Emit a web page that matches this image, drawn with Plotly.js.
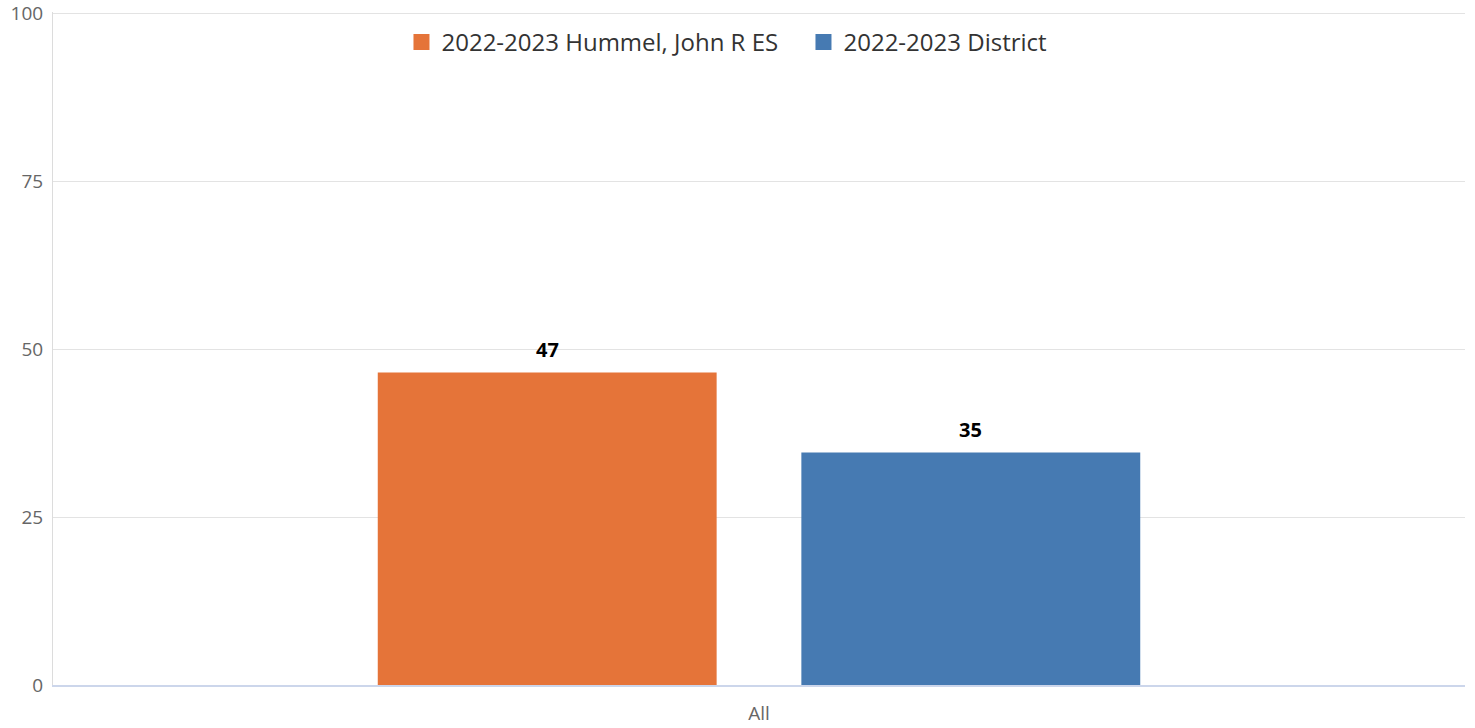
<!DOCTYPE html>
<html>
<head>
<meta charset="utf-8">
<script src="https://cdn.plot.ly/plotly-3.0.1.min.js"></script>
<style>html,body{margin:0;padding:0;background:#fff;}#chart{width:1475px;height:728px;}</style>
</head>
<body>
<div id="chart"></div>
<script>
const categories = ["All"];
const seriesNames = ["2022-2023 Hummel, John R ES", "2022-2023 District"];
const schoolValues = [46.5];
const districtValues = [34.6];
const schoolLabels = ["47"];
const districtLabels = ["35"];
const yTicks = [0, 25, 50, 75, 100];
const colors = ["#E57439", "#467AB2"];

const font = "'Open Sans', sans-serif";
const bargap = 0.4;
const slot = (1 - bargap) / 2;

const traces = [
  {type: "bar", x: categories, y: schoolValues, name: seriesNames[0],
   marker: {color: colors[0]}, showlegend: false, hoverinfo: "none"},
  {type: "bar", x: categories, y: districtValues, name: seriesNames[1],
   marker: {color: colors[1]}, showlegend: false, hoverinfo: "none"},
  {type: "scatter", mode: "markers", x: [null], y: [null], name: seriesNames[0],
   marker: {symbol: "square", size: 16, color: colors[0]}, hoverinfo: "none"},
  {type: "scatter", mode: "markers", x: [null], y: [null], name: seriesNames[1],
   marker: {symbol: "square", size: 16, color: colors[1]}, hoverinfo: "none"}
];

const annotations = [];
const series = [[schoolValues, schoolLabels, -1], [districtValues, districtLabels, 1]];
series.forEach(([vals, labs, side]) => {
  vals.forEach((v, i) => {
    annotations.push({
      xref: "x", yref: "y", x: i + side * slot / 2, y: v,
      text: "<b>" + labs[i] + "</b>", showarrow: false,
      yanchor: "middle", yshift: 23,
      font: {family: font, size: 20, color: "#000"}
    });
  });
});

const layout = {
  width: 1475, height: 728,
  margin: {l: 53, r: 10, t: 12, b: 43, autoexpand: false},
  paper_bgcolor: "#fff", plot_bgcolor: "#fff",
  font: {family: font, color: "#666"},
  barmode: "group", bargap: bargap, bargroupgap: 0.2,
  xaxis: {type: "category", range: [-0.5, 0.5], showgrid: false, zeroline: false,
          showline: true, linecolor: "#ccd6eb", linewidth: 2, automargin: false,
          ticks: "", ticklabelstandoff: 10, tickfont: {size: 19, color: "#666", family: font}},
  yaxis: {range: [0, 100.15], tickvals: yTicks, ticktext: yTicks.map(String), automargin: false,
          ticklabeloverflow: "allow",
          showgrid: true, gridcolor: "#e3e3e3", gridwidth: 1, zeroline: false,
          showline: true, linecolor: "#dcdcdc", linewidth: 1, ticks: "", ticklabelstandoff: 5,
          tickfont: {size: 19, color: "#666", family: font}},
  annotations: annotations,
  showlegend: true,
  legend: {orientation: "h", x: 0.5315, xanchor: "center", y: 0.955, yanchor: "middle",
           font: {size: 24, color: "#333", family: font}, itemwidth: 30,
           entrywidth: 357, entrywidthmode: "pixels", bgcolor: "rgba(0,0,0,0)", tracegroupgap: 0}
};

Plotly.newPlot("chart", traces, layout, {displayModeBar: false, staticPlot: true});
</script>
</body>
</html>
